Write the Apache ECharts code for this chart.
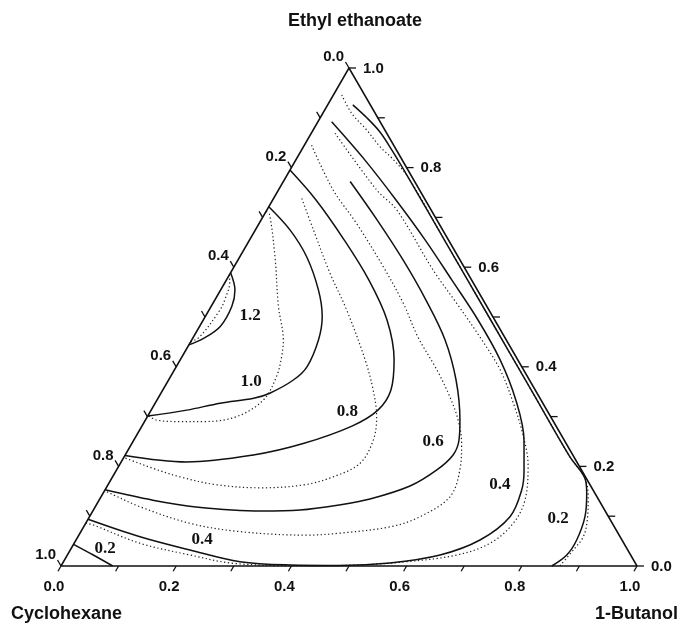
<!DOCTYPE html>
<html>
<head>
<meta charset="utf-8">
<script src="https://cdn.jsdelivr.net/npm/echarts@6/dist/echarts.min.js"></script>
<style>
  html, body { margin: 0; padding: 0; background: #fff; }
  #chart { width: 681px; height: 624px; }
</style>
</head>
<body>
<div id="chart"></div>
<script>
// ---- Data: ternary compositions [x(1-Butanol), x(Ethyl ethanoate)] ----
const componentNames = ['Ethyl ethanoate', 'Cyclohexane', '1-Butanol'];
const tickValues = [0, 0.1, 0.2, 0.3, 0.4, 0.5, 0.6, 0.7, 0.8, 0.9, 1.0];
const tickLabels = ['0.0', '0.2', '0.4', '0.6', '0.8', '1.0'];

// solid contours
const solid12 = [[0,0.589],[0.025,0.554],[0.036,0.521],[0.036,0.481],[0.019,0.457],[0,0.444]];
const solid10 = [[0,0.7215],[0.060,0.675],[0.116,0.621],[0.170,0.554],[0.203,0.501],[0.220,0.454],[0.227,0.400],[0.217,0.374],[0.189,0.347],[0.166,0.337],[0.113,0.327],[0.062,0.313],[0,0.301]];
const solid08 = [[0,0.795],[0.0752,0.735],[0.164,0.655],[0.2476,0.574],[0.319,0.494],[0.3713,0.414],[0.3962,0.353],[0.3937,0.313],[0.3646,0.281],[0.2975,0.246],[0.2225,0.223],[0.1135,0.209],[0,0.222]];
const solid06 = [[0.116,0.772],[0.2012,0.695],[0.2866,0.6145],[0.3666,0.534],[0.4398,0.454],[0.4991,0.3735],[0.5461,0.293],[0.5645,0.253],[0.5692,0.223],[0.556,0.193],[0.5256,0.1606],[0.4692,0.1345],[0.4214,0.1225],[0.3587,0.1124],[0.292,0.1104],[0.175,0.1185],[0.0917,0.1325],[0,0.153]];
const solid04 = [[0.0239,0.892],[0.1202,0.815],[0.2141,0.735],[0.3046,0.655],[0.3917,0.574],[0.477,0.494],[0.5554,0.414],[0.6232,0.333],[0.6773,0.253],[0.7074,0.193],[0.7235,0.1526],[0.730,0.099],[0.7013,0.0522],[0.647,0.0221],[0.568,0.006],[0.4844,0.001],[0.3966,0.002],[0.3065,0.0086],[0.208,0.0321],[0.1078,0.0588],[0,0.094]];
const solid02 = [[0.0436,0.926],[0.081,0.900],[0.118,0.8715],[0.157,0.835],[0.213,0.78],[0.343,0.65],[0.493,0.5],[0.643,0.35],[0.773,0.22],[0.8216,0.176],[0.8397,0.146],[0.8602,0.099],[0.8692,0.0522],[0.867,0.0221],[0.852,0]];
const solid02b = [[0,0.0436],[0.045,0.0221],[0.0898,0]];

// dotted contours
const dotted12 = [[0,0.585],[0.008,0.57],[0.017,0.535],[0.019,0.514],[0.011,0.461],[0,0.45]];
const dotted10 = [[0,0.712],[0.009,0.706],[0.061,0.621],[0.117,0.521],[0.159,0.454],[0.173,0.42],[0.184,0.38],[0.1845,0.333],[0.155,0.30],[0.102,0.29],[0.062,0.29],[0.0195,0.293],[0,0.302]];
const dotted08 = [[0.049,0.738],[0.1007,0.675],[0.173,0.588],[0.239,0.514],[0.321,0.414],[0.3655,0.353],[0.398,0.300],[0.4157,0.253],[0.416,0.206],[0.383,0.179],[0.3406,0.163],[0.269,0.157],[0.1895,0.163],[0.117,0.179],[0.062,0.196],[0.0134,0.213],[0,0.218]];
const dotted06 = [[0.0125,0.845],[0.095,0.755],[0.169,0.688],[0.259,0.601],[0.3305,0.5275],[0.3896,0.460],[0.4555,0.394],[0.505,0.340],[0.543,0.293],[0.5725,0.246],[0.596,0.193],[0.6057,0.139],[0.5738,0.099],[0.5334,0.079],[0.4516,0.066],[0.3955,0.062],[0.2764,0.069],[0.181,0.0857],[0.0777,0.119],[0.012,0.146],[0,0.151]];
const dotted04 = [[0.0413,0.869],[0.1706,0.755],[0.2254,0.715],[0.3492,0.594],[0.4232,0.5275],[0.4972,0.460],[0.5654,0.394],[0.6218,0.327],[0.6728,0.26],[0.7094,0.203],[0.7393,0.1325],[0.7423,0.0857],[0.722,0.0456],[0.676,0.0221],[0.596,0.0086],[0.5124,0.002],[0.415,0.0005],[0.2964,0.0054],[0.213,0.0221],[0.1144,0.0456],[0.015,0.0823],[0,0.086]];
const dotted02 = [[0.0144,0.946],[0.0502,0.909],[0.093,0.8755],[0.1328,0.842],[0.165,0.819],[0.213,0.78],[0.343,0.65],[0.493,0.5],[0.643,0.35],[0.773,0.22],[0.8226,0.175],[0.849,0.1325],[0.8675,0.0924],[0.8774,0.0588],[0.8734,0.0321],[0.866,0]];

// contour labels and where they sit (ternary compositions)
const contourLabels = ['1.2', '1.0', '0.8', '0.6', '0.4', '0.2', '0.4', '0.2'];
const labelAnchors = [[0.077,0.503],[0.145,0.3705],[0.342,0.3102],[0.521,0.25],[0.680,0.1637],[0.816,0.0944],[0.219,0.0522],[0.059,0.0351]];

// ---- Ternary -> cartesian (unit triangle) ----
function toXY(p) { return [p[0] + p[1] / 2, p[1]]; }

const INK = '#111';
const SANS = '"Liberation Sans", Arial, sans-serif';
const SERIF = '"Liberation Serif", "Times New Roman", serif';

function contour(pts, dotted) {
  return {
    type: 'line', data: pts.map(toXY), smooth: 0.35, symbol: 'none',
    silent: true, clip: false, animation: false, z: dotted ? 2 : 3,
    lineStyle: dotted ? { color: '#222', width: 1.2, type: [1.3, 2.5] } : { color: INK, width: 1.5, type: 'solid' }
  };
}

function textEl(x, y, text, align, font) {
  return {
    type: 'text', x: x, y: y,
    style: { text: text, font: font, fill: INK, align: align, verticalAlign: 'middle', textAlign: align, textVerticalAlign: 'middle' }
  };
}

function axisSeries(posFn, tickDx, tickDy, labDx, labDy, align) {
  return {
    type: 'custom', coordinateSystem: 'cartesian2d', silent: true, animation: false, clip: false,
    data: tickValues.map(v => [v, 0]),
    encode: { x: 0, y: 1 },
    renderItem: function (params, api) {
      const v = api.value(0);
      const p = api.coord(toXY(posFn(v)));
      const children = [{
        type: 'line',
        shape: { x1: p[0], y1: p[1], x2: p[0] + tickDx, y2: p[1] + tickDy },
        style: { stroke: INK, lineWidth: 1.3 }
      }];
      const k = Math.round(v * 10);
      if (k % 2 === 0) {
        children.push(textEl(p[0] + labDx, p[1] + labDy, tickLabels[k / 2], align, 'bold 15px ' + SANS));
      }
      return { type: 'group', children: children };
    }
  };
}

const chart = echarts.init(document.getElementById('chart'), null, { renderer: 'canvas' });

const series = [
  {
    type: 'line', data: [[0,0],[1,0],[0,1],[0,0]].map(toXY), symbol: 'none', silent: true,
    clip: false, animation: false, z: 4, lineStyle: { color: INK, width: 1.5 }
  },
  contour(dotted12, true), contour(dotted10, true), contour(dotted08, true),
  contour(dotted06, true), contour(dotted04, true), contour(dotted02, true),
  contour(solid12, false), contour(solid10, false), contour(solid08, false),
  contour(solid06, false), contour(solid04, false), contour(solid02, false), contour(solid02b, false),
  // bottom axis: 1-Butanol fraction
  axisSeries(v => [v, 0], -3, 5.2, -7, 21, 'center'),
  // right axis: Ethyl ethanoate fraction
  axisSeries(v => [1 - v, v], 7, 0, 14, 0.5, 'left'),
  // left axis: Cyclohexane fraction
  axisSeries(v => [0, 1 - v], -3.5, -6, -5, -11, 'right'),
  // contour value labels
  {
    type: 'custom', coordinateSystem: 'cartesian2d', silent: true, animation: false, clip: false, z: 5,
    data: labelAnchors.map(toXY),
    encode: { x: 0, y: 1 },
    renderItem: function (params, api) {
      const p = api.coord([api.value(0), api.value(1)]);
      return textEl(p[0], p[1], contourLabels[params.dataIndex], 'center', 'bold 17px ' + SERIF);
    }
  }
];

chart.setOption({
  backgroundColor: '#fff',
  animation: false,
  grid: { left: 61, top: 68, width: 576, height: 498 },
  xAxis: { type: 'value', min: 0, max: 1, show: false },
  yAxis: { type: 'value', min: 0, max: 1, show: false },
  graphic: [
    textEl(355, 21, componentNames[0], 'center', 'bold 18px ' + SANS),
    textEl(11, 614, componentNames[1], 'left', 'bold 18px ' + SANS),
    textEl(678, 614, componentNames[2], 'right', 'bold 18px ' + SANS)
  ],
  series: series
});
</script>
</body>
</html>
